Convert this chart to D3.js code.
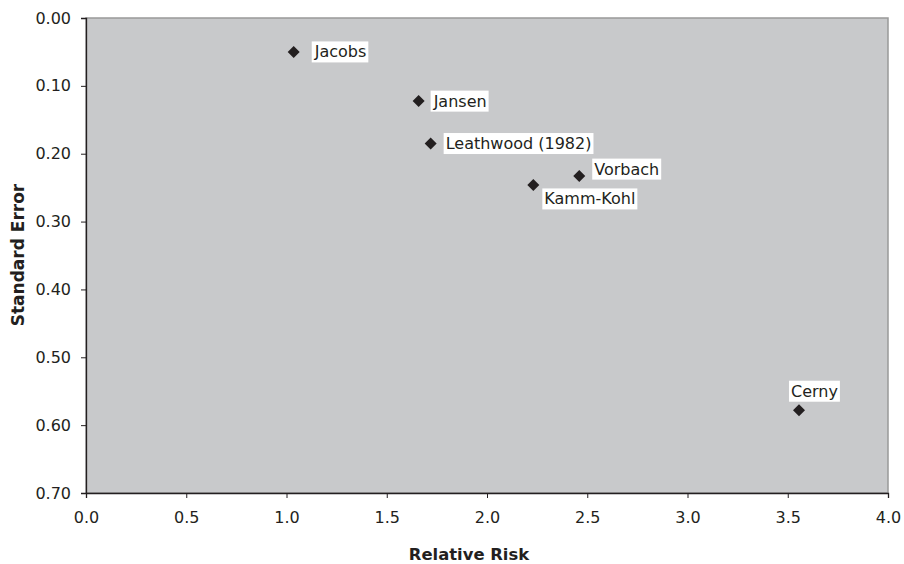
<!DOCTYPE html>
<html><head><meta charset="utf-8">
<script src="https://cdn.jsdelivr.net/npm/d3@7"></script>
<style>
body{margin:0;background:#fff;}
svg text{font-family:"DejaVu Sans",Verdana,sans-serif;fill:#231f20;}
</style></head>
<body>
<svg id="chart" width="904" height="564"></svg>
<script>
const studies = ["Jacobs","Jansen","Leathwood (1982)","Kamm-Kohl","Vorbach","Cerny"];
const relativeRisk = [1.036, 1.659, 1.719, 2.231, 2.460, 3.556];
const standardError = [0.050, 0.1225, 0.185, 0.246, 0.233, 0.578];
const labelPlacement = ["right","right","right","below","above","top"];
const xTicks = [0,0.5,1,1.5,2,2.5,3,3.5,4];
const yTicks = [0,0.1,0.2,0.3,0.4,0.5,0.6,0.7];

const svg = d3.select("#chart");
const m = {l:86, r:888, t:18, b:493};
const x = d3.scaleLinear().domain([0,4]).range([m.l, m.r]);
const y = d3.scaleLinear().domain([0,0.7]).range([m.t, m.b]);

svg.append("rect").attr("x",m.l).attr("y",m.t).attr("width",m.r-m.l).attr("height",m.b-m.t)
  .attr("fill","#c8c9cb").attr("stroke","#999").attr("stroke-width",1.5);

const xa = svg.append("g").attr("transform",`translate(0,${m.b})`)
  .call(d3.axisBottom(x).tickValues(xTicks).tickFormat(d3.format(".1f")).tickSizeOuter(0).tickSize(5).tickPadding(14));
const ya = svg.append("g").attr("transform",`translate(${m.l},0)`)
  .call(d3.axisLeft(y).tickValues(yTicks).tickFormat(d3.format(".2f")).tickSizeOuter(0).tickSize(5).tickPadding(10));
[xa,ya].forEach(a=>{
  a.selectAll("path").attr("stroke","#231f20").attr("stroke-width",1.3);
  a.selectAll("line").attr("stroke","#231f20");
  a.selectAll("text").attr("font-size",16).attr("font-family","DejaVu Sans, Verdana, sans-serif").attr("fill","#231f20");
});

const data = studies.map((s,i)=>({name:s, rr:relativeRisk[i], se:standardError[i], pl:labelPlacement[i]}));

const g = svg.append("g");
data.forEach(d=>{
  const px = x(d.rr), py = y(d.se);
  g.append("path").attr("d", d3.symbol().type(d3.symbolSquare).size(72)())
    .attr("transform",`translate(${px},${py}) rotate(45)`).attr("fill","#231f20");
  const t = g.append("text").text(d.name).attr("font-size",16).attr("dominant-baseline","central");
  let tx, ty;
  if(d.pl==="right"){ tx = px + (d.name==="Jacobs"?21:15); ty = py; }
  else if(d.pl==="above"){ tx = px + 15; ty = py - 7; }
  else if(d.pl==="below"){ tx = px + 11; ty = py + 14; }
  else { tx = px - 8; ty = py - 19; }
  t.attr("x",tx).attr("y",ty);
  const bb = t.node().getBBox();
  g.insert("rect", () => t.node()).attr("x",bb.x-2).attr("y",bb.y-1).attr("width",bb.width+4).attr("height",bb.height+2).attr("fill","#fff");
});

svg.append("text").text("Relative Risk").attr("x",469).attr("y",554).attr("text-anchor","middle")
  .attr("dominant-baseline","central").attr("font-size",16.4).attr("font-weight","bold");
svg.append("text").text("Standard Error").attr("transform","translate(18,255) rotate(-90)").attr("text-anchor","middle")
  .attr("dominant-baseline","central").attr("font-size",17).attr("font-weight","bold");
</script>
</body></html>
